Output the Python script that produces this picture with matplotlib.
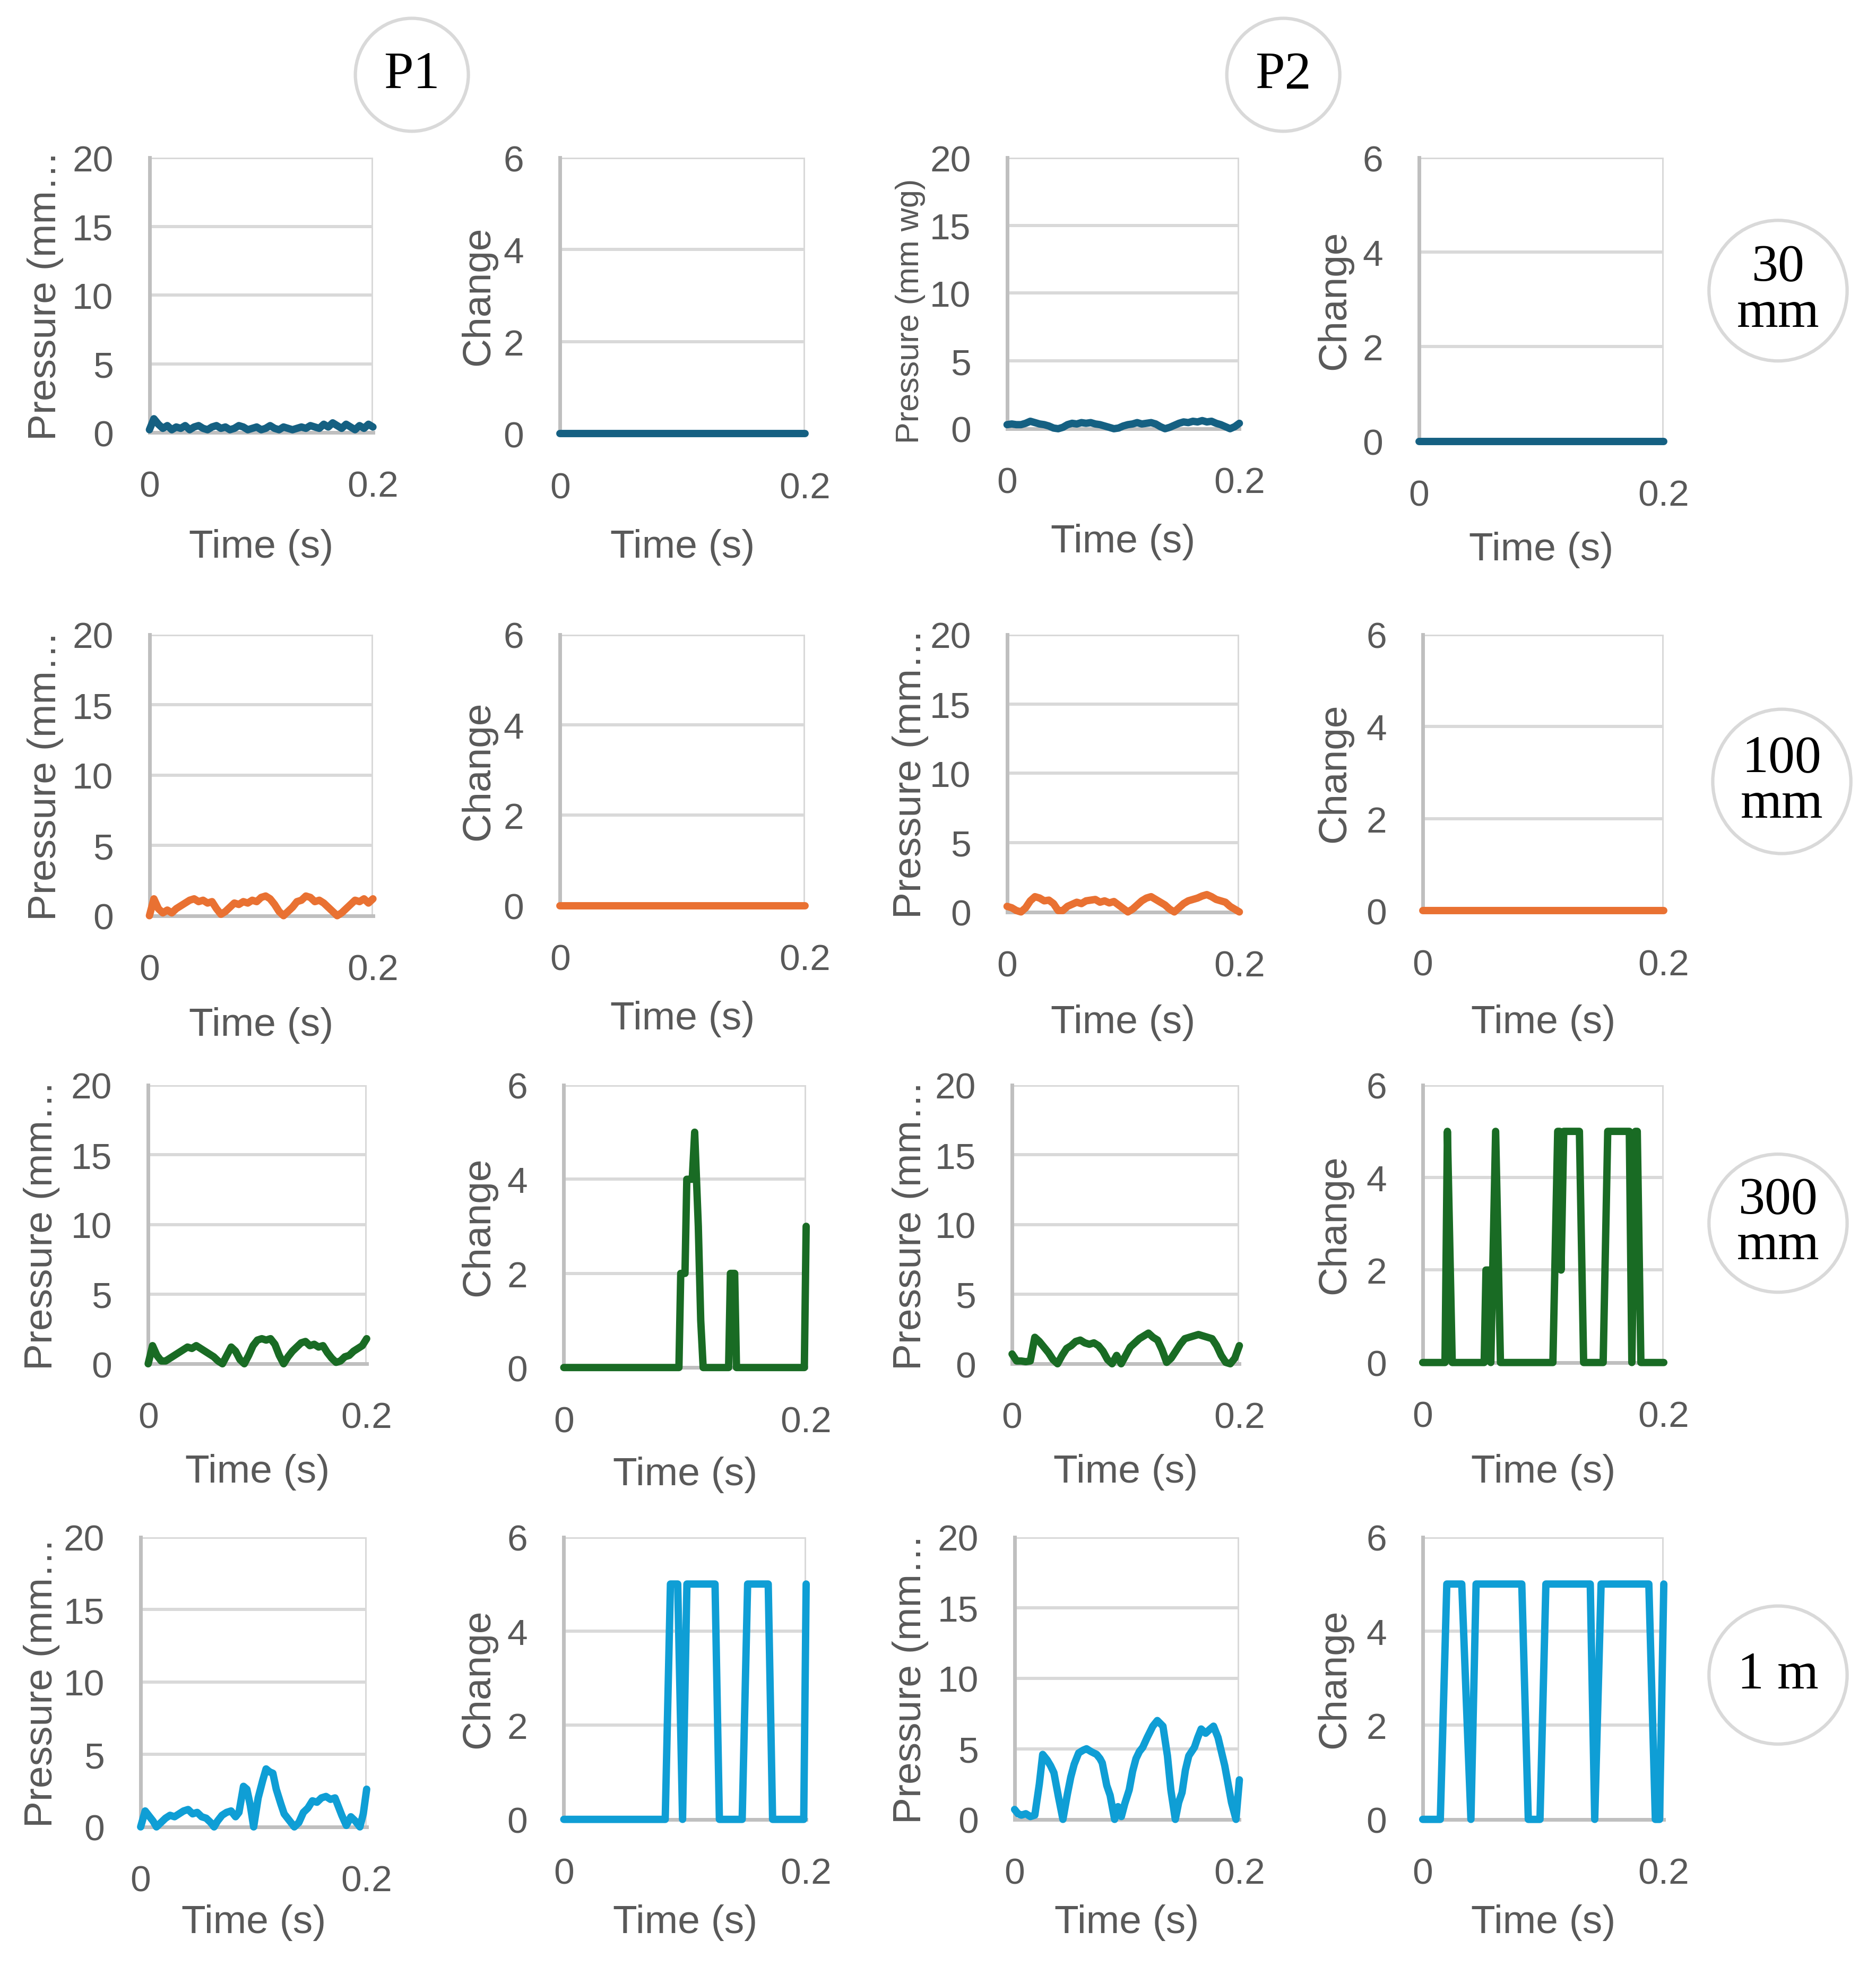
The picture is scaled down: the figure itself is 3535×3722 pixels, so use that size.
import matplotlib
matplotlib.use('Agg')
import matplotlib.pyplot as plt
from matplotlib.patches import Ellipse

# layout is measured on a 1494 x 1574 grid of the reference picture
W, H = 1494, 1574
TXT = '#595959'
GRID = '#D9D9D9'
AXIS = '#BFBFBF'
SANS = ['Liberation Sans', 'DejaVu Sans']
SERIF = ['Liberation Serif', 'DejaVu Serif']

row_names = ['30\nmm', '100\nmm', '300\nmm', '1 m']
line_colors = ['#156082', '#E97132', '#196B24', '#0F9ED5']

# shared sample times of the slow pressure traces (s)
t_grid = [0, .004, .008, .012, .016, .02, .024, .028, .032, .036,
          .04, .044, .048, .052, .056, .06, .064, .068, .072, .076,
          .08, .084, .088, .092, .096, .1, .104, .108, .112, .116,
          .12, .124, .128, .132, .136, .14, .144, .148, .152, .156,
          .16, .164, .168, .172, .176, .18, .184, .188, .192, .196,
          .2]

# pressure (mm wg)
p1_30 = [0.2, 1.0, 0.6, 0.3, 0.5, 0.2, 0.4, 0.3, 0.5, 0.2,
         0.4, 0.5, 0.3, 0.2, 0.4, 0.5, 0.3, 0.4, 0.2, 0.3,
         0.5, 0.4, 0.2, 0.3, 0.4, 0.2, 0.3, 0.5, 0.3, 0.2,
         0.4, 0.3, 0.2, 0.3, 0.4, 0.3, 0.5, 0.4, 0.3, 0.6,
         0.4, 0.7, 0.5, 0.3, 0.6, 0.4, 0.2, 0.5, 0.3, 0.6,
         0.4]
p2_30 = [0.3, 0.35, 0.3, 0.3, 0.4, 0.55, 0.45, 0.35, 0.3, 0.2,
         0.05, 0.0, 0.1, 0.3, 0.4, 0.35, 0.45, 0.4, 0.45, 0.35,
         0.3, 0.2, 0.1, 0.0, 0.05, 0.2, 0.3, 0.35, 0.45, 0.35,
         0.4, 0.45, 0.35, 0.15, 0.0, 0.1, 0.25, 0.4, 0.5, 0.45,
         0.55, 0.5, 0.6, 0.5, 0.55, 0.4, 0.3, 0.15, 0.0, 0.15,
         0.4]
p1_100 = [0.0, 1.2, 0.5, 0.2, 0.4, 0.2, 0.5, 0.7, 0.9, 1.1,
          1.2, 1.0, 1.1, 0.9, 1.0, 0.5, 0.1, 0.3, 0.6, 0.9,
          0.8, 1.0, 0.9, 1.1, 1.0, 1.3, 1.4, 1.2, 0.8, 0.3,
          0.0, 0.3, 0.6, 1.0, 1.1, 1.4, 1.3, 1.0, 1.1, 0.9,
          0.6, 0.3, 0.0, 0.2, 0.5, 0.8, 1.1, 1.0, 1.2, 0.9,
          1.2]
p2_100 = [0.4, 0.3, 0.1, 0.0, 0.3, 0.8, 1.1, 1.0, 0.8, 0.85,
          0.6, 0.1, 0.1, 0.4, 0.55, 0.7, 0.6, 0.8, 0.85, 0.9,
          0.7, 0.8, 0.65, 0.75, 0.5, 0.25, 0.0, 0.2, 0.5, 0.8,
          1.0, 1.1, 0.9, 0.7, 0.5, 0.2, 0.0, 0.3, 0.6, 0.8,
          0.9, 1.0, 1.15, 1.25, 1.1, 0.9, 0.8, 0.7, 0.4, 0.2,
          0.0]
p1_300 = [0.0, 1.3, 0.6, 0.2, 0.2, 0.4, 0.6, 0.8, 1.0, 1.2,
          1.1, 1.3, 1.1, 0.9, 0.7, 0.5, 0.2, 0.0, 0.6, 1.2,
          0.9, 0.3, 0.0, 0.6, 1.3, 1.7, 1.8, 1.7, 1.8, 1.4,
          0.6, 0.0, 0.5, 0.9, 1.2, 1.5, 1.6, 1.3, 1.4, 1.2,
          1.3, 0.8, 0.4, 0.1, 0.2, 0.5, 0.6, 0.9, 1.1, 1.3,
          1.8]
p2_300 = [0.7, 0.2, 0.2, 0.15, 0.2, 1.9, 1.6, 1.2, 0.8, 0.3,
          0.0, 0.6, 1.1, 1.3, 1.6, 1.7, 1.5, 1.4, 1.5, 1.3,
          0.9, 0.3, 0.0, 0.6, 0.0, 0.6, 1.2, 1.5, 1.8, 2.0,
          2.2, 1.9, 1.7, 1.0, 0.1, 0.4, 0.9, 1.4, 1.8, 1.9,
          2.0, 2.1, 2.0, 1.9, 1.8, 1.3, 0.6, 0.1, 0.0, 0.4,
          1.3]

t_p1_1m = [0, .004, .008, .011, .014, .018, .022, .026, .03, .034,
           .038, .042, .046, .05, .054, .058, .062, .065, .068, .072,
           .076, .08, .084, .087, .091, .094, .097, .1, .104, .108,
           .111, .114, .117, .12, .124, .127, .13, .133, .136, .14,
           .144, .148, .152, .156, .16, .164, .168, .172, .175, .178,
           .182, .186, .19, .194, .197, .2]
p1_1m = [0.0, 1.1, 0.7, 0.4, 0.0, 0.3, 0.6, 0.8, 0.7, 0.9,
         1.1, 1.2, 0.9, 1.0, 0.7, 0.6, 0.3, 0.0, 0.4, 0.8,
         1.0, 1.1, 0.7, 1.0, 2.8, 2.6, 1.5, 0.0, 2.0, 3.2,
         4.0, 3.8, 3.7, 2.6, 1.6, 0.9, 0.6, 0.3, 0.0, 0.3,
         1.0, 1.3, 1.8, 1.7, 2.0, 2.1, 1.9, 2.0, 1.4, 0.8,
         0.1, 0.7, 0.4, 0.0, 0.9, 2.6]
t_p2_1m = [0, .003, .006, .01, .014, .018, .022, .025, .029, .032,
           .035, .039, .043, .047, .05, .053, .057, .061, .064, .068,
           .073, .076, .078, .082, .085, .089, .092, .095, .098, .102,
           .105, .108, .111, .114, .118, .123, .127, .132, .136, .139,
           .143, .146, .149, .152, .155, .16, .163, .166, .17, .174,
           .177, .181, .184, .187, .19, .193, .197, .2]
p2_1m = [0.7, 0.4, 0.3, 0.4, 0.2, 0.3, 2.5, 4.6, 4.2, 3.8,
         3.3, 1.6, 0.0, 1.8, 3.0, 3.9, 4.7, 4.9, 5.0, 4.8,
         4.6, 4.3, 4.0, 2.4, 1.7, 0.0, 0.9, 0.2, 1.1, 2.1,
         3.4, 4.3, 4.8, 5.1, 5.8, 6.6, 7.0, 6.6, 4.5, 2.1,
         0.0, 1.2, 1.9, 3.5, 4.5, 5.1, 5.8, 6.4, 6.1, 6.4,
         6.6, 5.8, 4.8, 3.8, 2.5, 1.2, 0.0, 2.8]

# change signal
t_flat = [0, 0.2]
c_flat = [0, 0]
t_c1_300 = [0, 0.095, 0.0965, 0.1, 0.1015, 0.103, 0.106, 0.108, 0.1095,
            0.111, 0.113, 0.115, 0.136, 0.1375, 0.141, 0.1425, 0.1985, 0.2]
c1_300 = [0, 0, 2, 2, 4, 4, 4, 5, 4, 3, 1, 0, 0, 2, 2, 0, 0, 3]
t_c2_300 = [0, 0.0185, 0.0205, 0.0245, 0.051, 0.0525, 0.055, 0.0565, 0.0605,
            0.0645, 0.108, 0.112, 0.1135, 0.1148, 0.117, 0.130, 0.1335,
            0.1497, 0.1535, 0.1714, 0.1735, 0.1765, 0.178, 0.181, 0.2]
c2_300 = [0, 0, 5, 0, 0, 2, 2, 0, 5, 0, 0, 5, 5, 2, 5, 5, 0, 0, 5, 5, 0, 5, 5, 0, 0]
t_c1_1m = [0, 0.0837, 0.088, 0.094, 0.098, 0.1016, 0.1248, 0.1284, 0.1472,
           0.1517, 0.1687, 0.1723, 0.198, 0.2]
c1_1m = [0, 0, 5, 5, 0, 5, 5, 0, 0, 5, 5, 0, 0, 5]
t_c2_1m = [0, 0.0146, 0.02, 0.0324, 0.04, 0.0443, 0.0822, 0.0876, 0.0973,
           0.1022, 0.139, 0.1427, 0.148, 0.1876, 0.193, 0.1965, 0.2]
c2_1m = [0, 0, 5, 5, 0, 5, 5, 0, 0, 5, 5, 0, 5, 5, 0, 0, 5]

# one entry per row: [P1 pressure, P1 change, P2 pressure, P2 change]
series = [
    [(t_grid, p1_30), (t_flat, c_flat), (t_grid, p2_30), (t_flat, c_flat)],
    [(t_grid, p1_100), (t_flat, c_flat), (t_grid, p2_100), (t_flat, c_flat)],
    [(t_grid, p1_300), (t_c1_300, c1_300), (t_grid, p2_300), (t_c2_300, c2_300)],
    [(t_p1_1m, p1_1m), (t_c1_1m, c1_1m), (t_p2_1m, p2_1m), (t_c2_1m, c2_1m)],
]

# panel boxes (left, top, right, bottom, x-label centre y) on the layout grid
boxes = [
    [(119, 126, 297, 345, 436), (446, 126, 641, 346, 436), (802, 126, 987, 342, 432), (1130, 126, 1325, 352, 438)],
    [(119, 506, 297, 730, 817), (446, 506, 641, 722, 812), (802, 506, 987, 727, 815), (1133, 506, 1325, 726, 815)],
    [(118, 865, 292, 1087, 1173), (449, 865, 642, 1090, 1175), (806, 865, 987, 1087, 1173), (1133, 865, 1325, 1086, 1173)],
    [(112, 1225, 292, 1456, 1532), (449, 1225, 642, 1450, 1532), (808, 1225, 987, 1450, 1532), (1133, 1225, 1325, 1450, 1532)],
]
ylab_x = [[36, 381, 725, 1063], [36, 381, 725, 1063], [33, 381, 725, 1063], [33, 381, 725, 1063]]
row_circles = [(1416, 232, 110, 112), (1419, 623, 110, 115), (1416, 975, 110, 110), (1416, 1335, 110, 110)]

fig = plt.figure(figsize=(35.35, 37.23), dpi=100)
fig.patch.set_facecolor('white')

for r in range(4):
    for c in range(4):
        l, t, rr, b, xly = boxes[r][c]
        ax = fig.add_axes([l / W, 1 - b / H, (rr - l) / W, (b - t) / H])
        tt, vv = series[r][c]
        ax.plot(tt, vv, color=line_colors[r], lw=10, solid_joinstyle='round',
                solid_capstyle='round', clip_on=False, zorder=3)
        ax.set_xlim(0, 0.2)
        ax.set_xticks([0, 0.2])
        ax.set_xticklabels(['0', '0.2'])
        is_pressure = c in (0, 2)
        if is_pressure:
            ax.set_ylim(0, 20)
            ax.set_yticks([0, 5, 10, 15, 20])
        else:
            ax.set_ylim(0, 6)
            ax.set_yticks([0, 2, 4, 6])
        ax.grid(True, color=GRID, lw=4.3)
        ax.set_axisbelow(True)
        for s in ('top', 'right'):
            ax.spines[s].set_visible(False)
        for s in ('left', 'bottom'):
            ax.spines[s].set_color(AXIS)
            ax.spines[s].set_linewidth(5)
        ax.tick_params(axis='both', length=0, labelsize=50, labelcolor=TXT)
        ax.tick_params(axis='y', pad=49)
        ax.tick_params(axis='x', pad=51)
        for lab in ax.get_xticklabels() + ax.get_yticklabels():
            lab.set_family(SANS)

        yc = (t + b) / 2
        if is_pressure:
            if r == 0 and c == 2:
                ylab, fs, yc = 'Pressure (mm wg)', 44, 248
            else:
                ylab, fs = 'Pressure (mm…', 54
        else:
            ylab, fs = 'Change', 54
        fig.text(ylab_x[r][c] / W, 1 - yc / H, ylab, rotation=90, ha='center', va='center',
                 fontsize=fs, color=TXT, family=SANS)
        fig.text((l + rr) / 2 / W, 1 - xly / H, 'Time (s)', ha='center', va='center',
                 fontsize=54, color=TXT, family=SANS)

# column and row badges
for name, cx in [('P1', 328), ('P2', 1022)]:
    fig.add_artist(Ellipse((cx / W, 1 - 60 / H), 90 / W, 90 / H, transform=fig.transFigure,
                           fill=False, ec=GRID, lw=4.5))
    fig.text(cx / W, 1 - 60 / H, name, ha='center', va='center', fontsize=72,
             color='black', family=SERIF)

for name, (cx, cy, w, h) in zip(row_names, row_circles):
    fig.add_artist(Ellipse((cx / W, 1 - cy / H), w / W, h / H, transform=fig.transFigure,
                           fill=False, ec=GRID, lw=4.5))
    fig.text(cx / W, 1 - cy / H, name, ha='center', va='center', fontsize=72,
             color='black', family=SERIF, linespacing=0.95)

fig.savefig('out.png', dpi=100)
